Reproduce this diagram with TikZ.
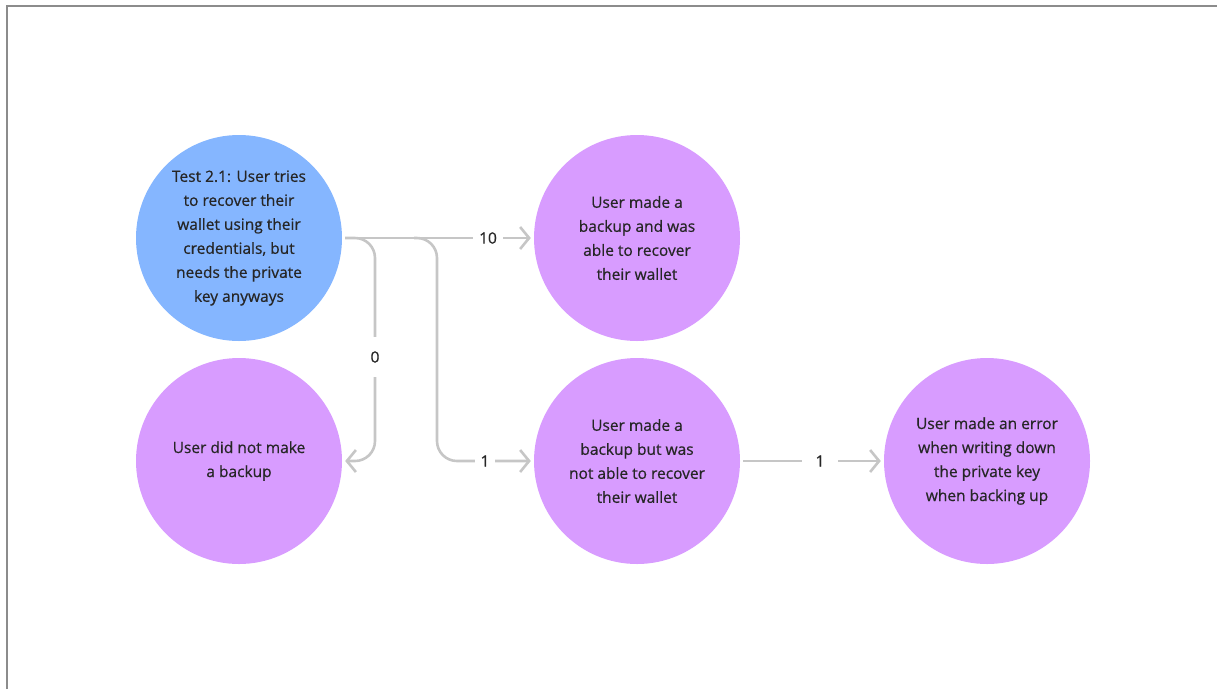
\documentclass[tikz,border=0pt]{standalone}
\usepackage{fontspec}
\setmainfont{Open Sans}[FakeBold=0.6]
\usetikzlibrary{arrows.meta}
\definecolor{bluefill}{HTML}{85B6FF}
\definecolor{purplefill}{HTML}{D89CFF}
\definecolor{linkgray}{HTML}{C6C6C6}
\definecolor{textgray}{HTML}{262626}
\definecolor{framegray}{HTML}{8C8C8C}
\tikzset{
  state/.style={circle, minimum size=206pt, inner sep=0pt,
    align=center, text=textgray, font=\fontsize{15.5}{24}\selectfont},
  bluestate/.style={state, fill=bluefill},
  purplestate/.style={state, fill=purplefill},
  link/.style={draw=linkgray, line width=2.6pt, rounded corners=20pt,
    -{Straight Barb[length=9pt,width=22pt,line width=2.6pt]}},
  count/.style={fill=white, inner sep=6pt, text=textgray, font=\fontsize{15.5}{18}\selectfont}
}
\begin{document}
\begin{tikzpicture}[x=1pt,y=-1pt]
\useasboundingbox (0,0) rectangle (1217,689);
% frame
\draw[framegray, line width=1.6pt] (7,689) -- (7,6) -- (1217,6);
% states
\node[bluestate] (test) at (239,238) {Test 2.1: User tries\\to recover their\\wallet using their\\credentials, but\\needs the private\\key anyways};
\node[purplestate] (ok) at (637,238) {User made a\\backup and was\\able to recover\\their wallet};
\node[purplestate] (nobackup) at (239,461) {User did not make\\a backup};
\node[purplestate] (fail) at (637,461) {User made a\\backup but was\\not able to recover\\their wallet};
\node[purplestate] (error) at (987,461) {User made an error\\when writing down\\the private key\\when backing up};
% transitions
\draw[link] ([xshift=3pt]test.east) -- (375,238) -- (375,461) -- ([xshift=3pt]nobackup.east);
\draw[link] (414,238) -- (437,238) -- (437,461) -- ([xshift=-3pt]fail.west);
\draw[link] ([xshift=3pt]test.east) -- ([xshift=-3pt]ok.west);
\draw[link] ([xshift=3pt]fail.east) -- ([xshift=-3pt]error.west);
% counts
\node[count] (n10) at (488,238) {10};
\node[count, inner ysep=14pt] (n0) at (375,357) {0};
\node[count] (n1a) at (485,461) {1};
\node[count, inner xsep=14pt] (n1b) at (820,461) {1};
\end{tikzpicture}
\end{document}
